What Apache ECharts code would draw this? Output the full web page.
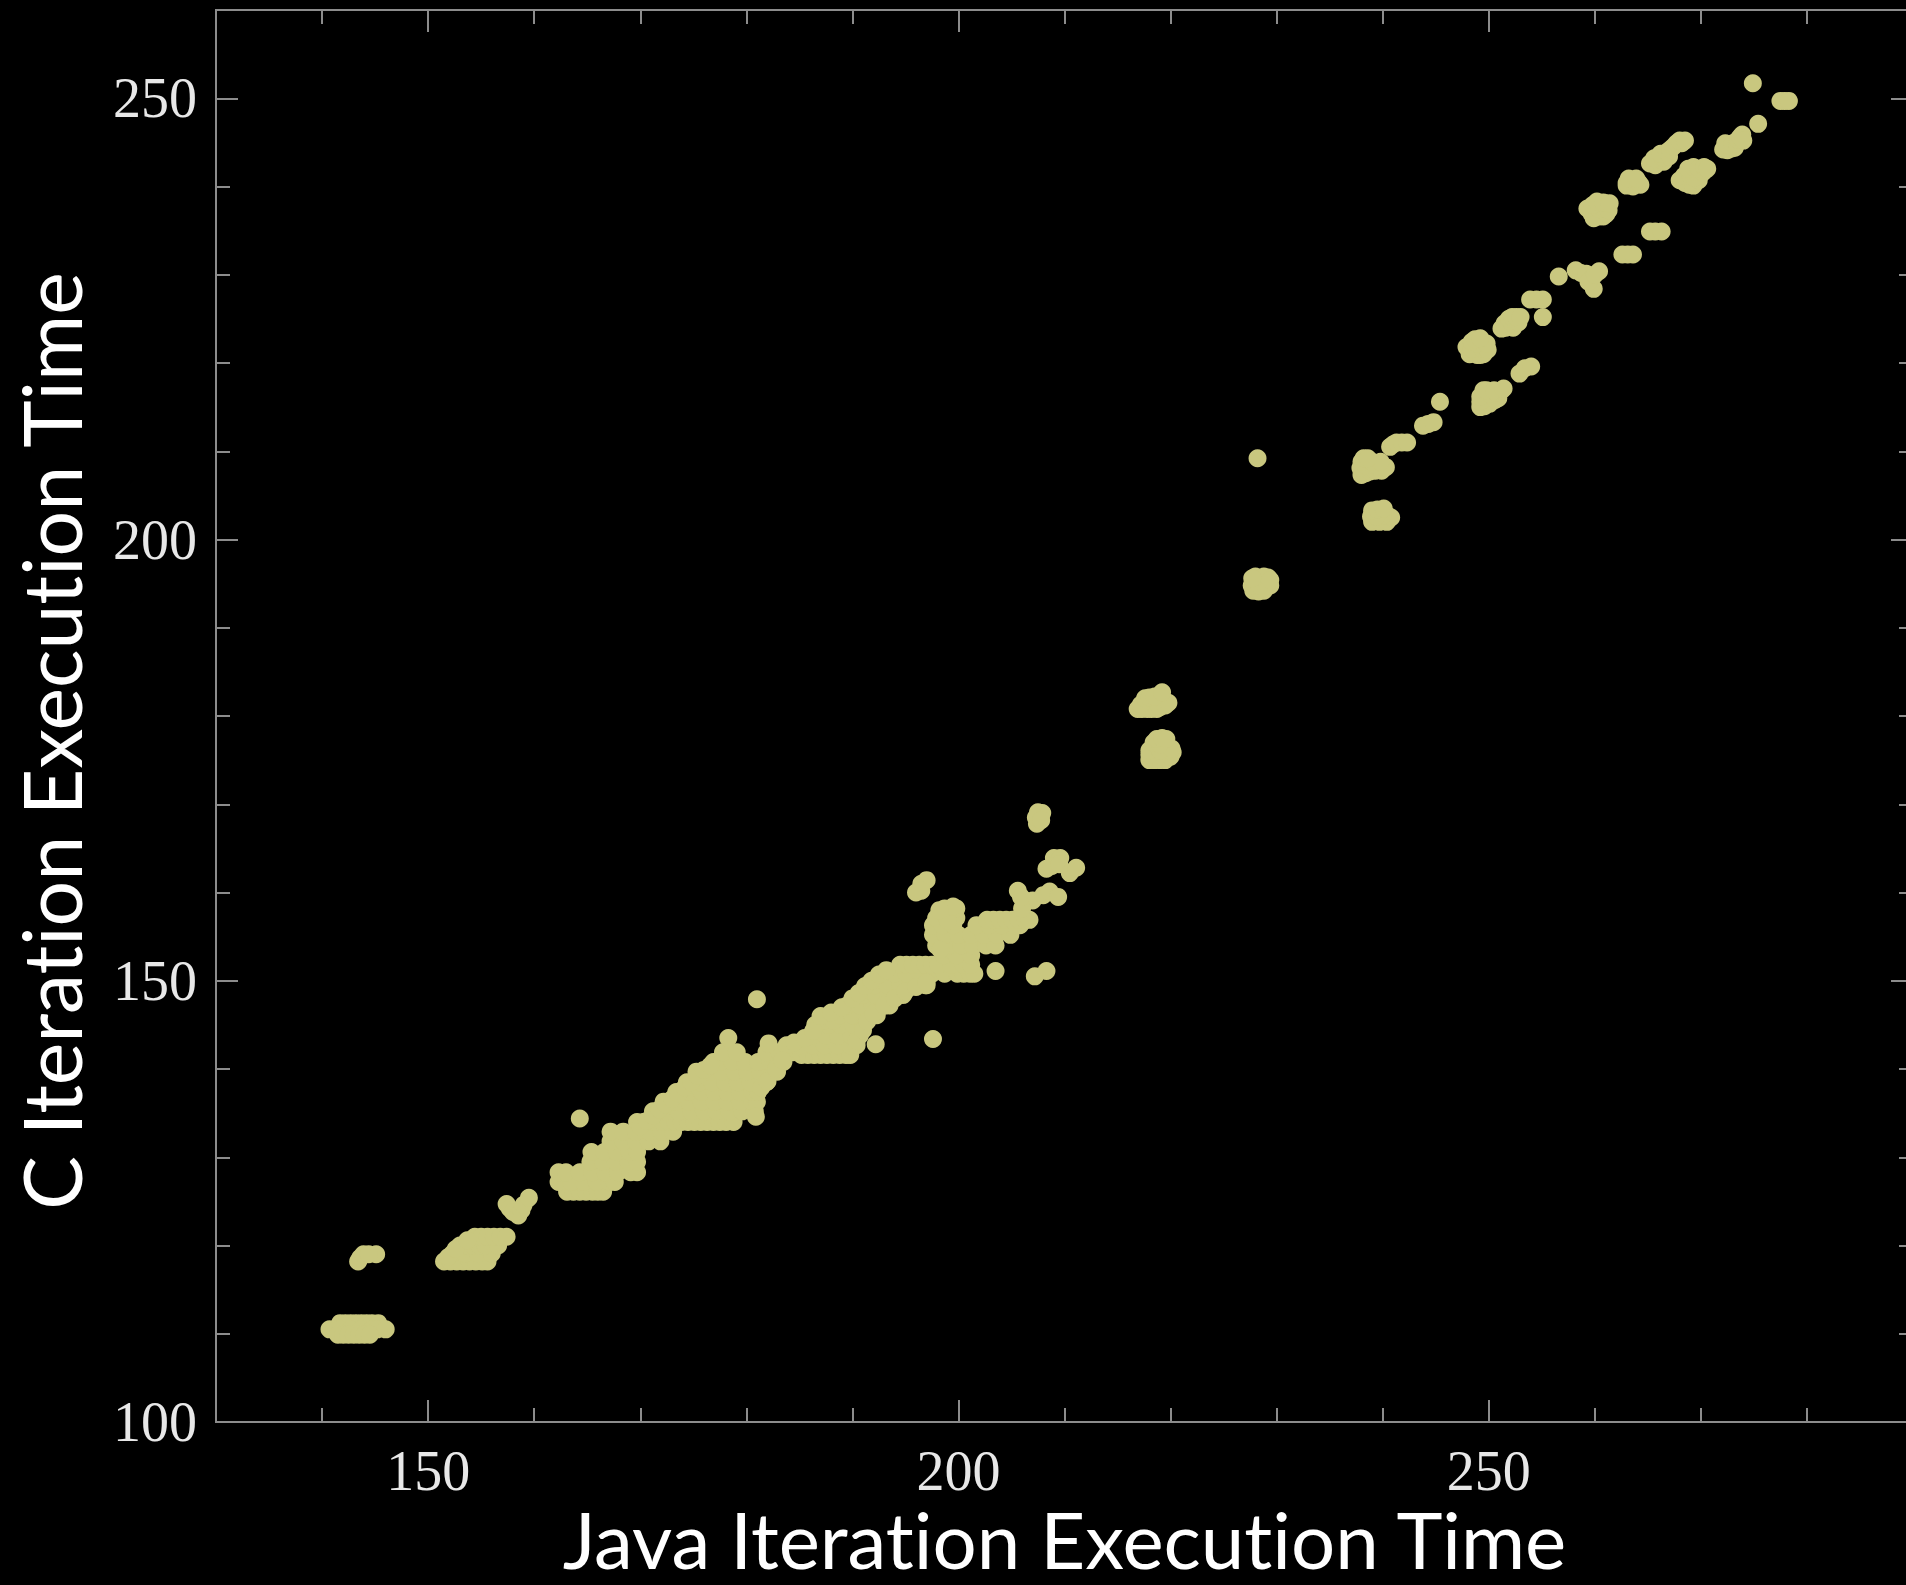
<!DOCTYPE html>
<html><head><meta charset="utf-8">
<style>html,body{margin:0;padding:0;background:#000;overflow:hidden}#c{width:1906px;height:1585px}#c text{font-variant-ligatures:none}#c svg{filter:blur(0.7px)}</style>
<script src="https://cdn.jsdelivr.net/npm/echarts@6/dist/echarts.min.js"></script>
</head><body><div id="c"></div>
<script>
var xTitle = 'Java Iteration Execution Time';
var yTitle = 'C Iteration Execution Time';
var xMajor = [150, 200, 250];
var yMajor = [100, 150, 200, 250];

// Dense band, read row by row: [C time, [Java times...]]
var bandRows = [
 [126.1,[163.1,163.7,164.3,164.9,165.5,166,166.5]],
 [127.2,[162.3,163.5,164.7,165.9,167.1,167.6]],
 [128.3,[162.3,163,164.3,165.5,166.7,167.9,169.1,169.7]],
 [129.5,[165.3,166.5,167.7,168.9,169.7]],
 [130.6,[165.4,166.6,167.8,169,169.7]],
 [131.8,[167.2,168.4,169.6,170.8,171.9]],
 [132.9,[167.2,168.4,169.6,170.8,172,173.1]],
 [134,[169.7,170.3,170.9,171.5,172.1,172.7,173.3,173.9,174.5,175.1,175.7,176.3,176.9,177.5,178.1,178.8]],
 [135.2,[171.2,172.4,173.6,174.8,176,177.2,178.4,179.6,180.8]],
 [136.3,[172.2,173.4,174.6,175.8,177,178.2,179.4,180.6,181]],
 [137.4,[173.4,174.6,175.8,177,178.2,179.4,180.6,181.1]],
 [138.5,[174.4,175.6,176.8,178,179.2,180.4,181.6,181.9]],
 [139.7,[175.3,176.5,177.7,178.9,180.1,181.3,182.5,182.9]],
 [140.8,[176.9,177.5,178.7,179.9,181.1,182.3,183.5]],
 [141.9,[177.8,179.1,181.9,183.1,184.4]],
 [142.9,[182.1]],
 [143.5,[178.3]],
 [141.6,[185.2,185.8,186.4,187,187.6,188.2,188.8,189.4,189.8]],
 [142.7,[183.8,185,186.2,187.4,188.6,189.8,190.4]],
 [143.8,[186.3,187.5,188.7,189.9,190.7]],
 [145,[186.5,187.7,188.9,190.1,191]],
 [145.5,[187.3,188.2]],
 [146.1,[188.8,190,191.2,192.3]],
 [147.2,[189.5,190.7,191.9,193.1,193.5]],
 [148.4,[191,192.2,193.4,194.6,194.8]],
 [149.5,[192.1,193.3,194.5,195.7,196.9,197]],
 [150.8,[193.9,195.1,196.3,197.5,198.7,199.9,200.5,201.1,201.5]],
 [151.8,[194.5,195.1,195.7,196.3,196.9,197.5,198.1,199.3,200.5,201.2]],
 [152.9,[198.6,199.8,201.2]],
 [154,[197.9,199.1,200.3,201.4,202.6,203.5]],
 [155.2,[197.6,198.8,200,201.2,202.4,203.6,204.9]],
 [156.3,[197.6,198.5,199.5,201.7,202.9,204.1,205.3,205.8]],
 [156.9,[202.7,203.3,203.9,204.5,205.1,205.7,206.3,206.7]],
 [157.1,[197.9,198.9,199.8]],
 [158.2,[198.7,199.3,199.8]]
];
// Edge readings along the same band: Java time, C time
var bandEdges = [
 [170,133.5],[170.6,134.1],[171.2,134.7],[171.8,135.4],[172.4,136],[173,136.6],[173.6,137.2],[174.2,137.9],[174.8,138.5],[175.4,139.2],[176,139.9],[176.6,140.4],
 [184.5,143],[185.5,143.5],[186.3,144.3],[187,146],[188,146.4],[189,147],[190,148],[190.6,148.6],[191.2,149.4],[191.8,150],[192.5,150.7],[193.2,151.2],
 [190.4,143.2],[191,144.4],[191.4,145.4],[192,146.3],[193,147.2],[194,148],[195,148.8],[196,149.3],[197,149.8],
 [180.9,134.6],[181.4,137.9],[182,138.6],[182.8,140],[183.4,141],
 [198.3,153.5],[199,156.8],[199.5,158.4],[198.2,158]
];

// Java time, C time
var lowClusters = [
 [141.7,111.2],[142.2,111.2],[142.7,111.2],[143.2,111.2],[143.7,111.2],[144.2,111.2],[144.7,111.2],[145.3,111.2],
 [140.7,110.5],[141.2,110.5],[141.7,110.5],[142.7,110.5],[143.7,110.5],[144.7,110.5],[145.2,110.5],[146,110.5],
 [141.5,109.9],[142,109.9],[142.5,109.9],[143,109.9],[143.5,109.9],[144,109.9],[144.5,109.9],
 [143.4,118.2],[143.6,118.6],[143.9,119],[145.1,119],[144.4,119],
 [151.5,118.2],[152.1,118.2],[152.7,118.2],[153.3,118.2],[153.9,118.2],[154.5,118.2],[155.1,118.2],[155.6,118.2],
 [152.3,119.1],[153.5,119.1],[154.7,119.1],[156,119.1],[151.9,118.7],
 [153,120],[153.6,120],[154.2,120],[154.8,120],[155.4,120],[156.6,120],[152.6,119.6],
 [154.4,121],[155,121],[155.6,121],[156.2,121],[156.8,121],[157.4,121],[153.7,120.6],
 [157.4,124.7],[157.7,124.2],[158,123.8],[158.5,123.4],[158.8,124],[159,124.6],[159.5,125.4],
 [164.3,134.4]
];
var midOutliers = [
 [181,147.9],[192.2,142.8],[197.6,143.4],[203.5,151.1],[207.2,150.5],[208.3,151.1],
 [196,160],[196.5,161],[197,161.4],[196.5,160.2],
 [205.6,160.2],[206.3,159.1],[207,159.1],[208,159.7],[208.6,160.1],[209.4,159.5],[206,158.2],[205.9,159.5],
 [208.3,162.7],[209,163.9],[209.6,163.9],[208.8,163],[209.5,163.2],[210.5,162.2],[211.1,162.8],
 [207.5,169.1],[207.4,167.8],[207.9,169],[207.3,168.5],[207.8,168.2]
];
var midClusters = [
 [216.9,180.8],[217.3,180.8],[217.8,180.8],[218.2,180.8],[218.7,180.8],[219,181],[219.5,181.2],[219.8,181.5],[217.2,181.3],[217.6,182],[218,182.1],[218.5,182.2],[219.2,182.7],
 [218,175],[218.5,175],[219,175],[219.5,175],[220,175.4],[218,175.6],[220.2,175.9],[218,176.1],[219,176.1],[220.1,176.3],[218.4,177],[219,176.8],[218.7,177.4],[219.2,177.5],[219.6,177.4],
 [227.8,194.2],[228.3,194.1],[228.8,194.2],[229.2,195],[229.4,194.8],[227.65,194.8],[227.8,195.4],[228.4,195.6],[229.2,195.7],[228.4,194.8],[228,195.8],[228.8,195.8],[229.4,195.4],[227.7,195.6],
 [228.2,209.2],
 [238,207.3],[238.4,207.5],[238.8,207.7],[239.3,207.8],[239.9,207.8],[237.9,208.1],[238.4,208.4],[239.4,208.4],[240.3,208.2],[238,208.8],[239,208.8],[239.8,208.8],[238.2,209.2],[238.6,209.2],
 [239,202],[239.7,202],[240.4,202],[240.8,202.5],[240.5,202.7],[240,202.7],[238.9,202.6],[239.4,202.6],[239,203.3],[239.5,203.4],[240.1,203.5],
 [240.7,210.5],[241,210.8],[241.3,211],[241.8,211],[242.3,211],
 [243.8,212.9],[244.3,213.1],[244.8,213.3],[245.4,215.6]
];
var highClusters = [
 [249.2,215],[249.6,215.1],[250.1,215.4],[250.9,216],[249.2,215.6],[250.6,215.8],[249.2,216.2],[250.1,216.5],[250.7,216.6],[251.2,216.9],[249.5,216.9],[249.8,216.9],[250.5,216.9],[251.4,217.1],
 [252.9,218.8],[253.4,219.4],[254,219.6],
 [247.9,221.8],[248.2,221],[248.9,220.9],[249.2,220.9],[249.5,221],[248.4,221.6],[249.4,221.6],[249.9,221.5],[248.9,222.2],[249.8,222.2],[248.4,222.4],[248.7,222.7],[249.2,222.8],
 [251.2,223.9],[251.6,224],[252.3,224],[251.5,224.5],[252.2,224.5],[252.8,224.6],[251.9,225],[252.2,225.2],[252.6,225.2],[253,225.2],
 [253.9,227.2],[254.5,227.2],[255.1,227.2],[255.1,225.2],
 [256.6,229.8],
 [258.2,230.5],[258.7,230.2],[259.2,230.1],[260.4,230.4],[259.7,229.6],[259.9,228.4],[259.4,229.2],[260,230],
 [262.6,232.3],[263.1,232.3],[263.6,232.3],[265.2,234.9],[265.7,234.9],[266.3,234.9],
 [259.9,236.4],[260.4,236.6],[260.8,236.6],[261.1,236.9],[259.7,236.9],[259.3,237.5],[260.3,237.5],[260.8,237.5],[261.3,237.3],[259.8,237.9],[260.2,238.3],[260.8,238.2],[261.4,238.1],
 [263,240.1],[263.6,240],[264.3,240.2],[263.5,240.4],[263,240.4],[264.1,240.5],[263.2,240.9],[263.9,240.9],
 [265.2,242.6],[265.7,242.4],[266,242.8],[266.5,242.8],[265.6,243.2],[266.4,243.3],[267,243.4],[266.2,243.7],[266.8,243.9],[267.1,244.2],[267.4,244.5],[267.7,244.9],[268.2,244.9],[268,245.2],[268.5,245.2],
 [268,240.7],[268.5,240.4],[268.9,240.2],[269.3,240.1],[269.8,240.7],[268.4,241.2],[269,241.3],[269.4,241],[269.4,241.7],[270.2,241.6],[268.8,242],[269.3,242.2],[269.8,242],[270.3,242.2],[270.6,242],
 [272.1,244.2],[272.5,244.1],[272.9,244.3],[273.2,244.4],[272.3,244.9],[272.5,244.7],[273,244.9],[273.4,244.9],[273.5,245.3],[273.7,245.6],[273.9,245.9],[274,245.2],
 [275.4,247.1],[274.9,251.7],[277.5,249.7],[277.9,249.7],[278.3,249.7]
];

var points = [];
bandRows.forEach(function (r) { r[1].forEach(function (x) { points.push([x, r[0]]); }); });
points = points.concat(bandEdges, lowClusters, midOutliers, midClusters, highClusters);

var AXIS = '#8c8c8c';
var LABEL = '#e8e8e8';
function base(min, max) {
  return { type: 'value', min: min, max: max, interval: 10, splitLine: { show: false },
           axisLine: { show: true, onZero: false, lineStyle: { color: AXIS, width: 2 } } };
}
function minorAxis(min, max, pos) {
  var a = base(min, max);
  a.position = pos;
  a.axisLabel = { show: false };
  a.axisTick = { show: true, inside: true, length: 14, lineStyle: { color: AXIS, width: 2 } };
  return a;
}
function majorAxis(min, max, pos, vals) {
  var a = base(min, max);
  a.position = pos;
  a.axisLabel = { show: false };
  a.axisTick = { show: true, inside: true, length: 22, customValues: vals, lineStyle: { color: AXIS, width: 2 } };
  return a;
}
var xMain = majorAxis(130, 290, 'bottom', xMajor);
xMain.axisLabel = { show: true, customValues: xMajor, margin: 21, color: LABEL,
  fontFamily: 'Liberation Serif', fontSize: 56 };
xMain.name = xTitle;
xMain.nameLocation = 'middle';
xMain.nameMoveOverlap = false;
xMain.nameGap = 78;
xMain.nameTextStyle = { color: '#ffffff', fontFamily: 'Lato', fontSize: 78 };

var yMain = majorAxis(100, 260, 'left', yMajor);
yMain.axisLabel = { show: true, customValues: yMajor, margin: 19, color: LABEL,
  fontFamily: 'Liberation Serif', fontSize: 56 };
yMain.name = yTitle;
yMain.nameLocation = 'middle';
yMain.nameGap = 125;
yMain.nameTextStyle = { color: '#ffffff', fontFamily: 'Lato', fontSize: 80.5, padding: [0, 50, 0, 0] };

var chart = echarts.init(document.getElementById('c'), null, { renderer: 'svg' });
chart.setOption({
  animation: false,
  backgroundColor: '#000000',
  grid: { left: 216, top: 10, width: 1697, height: 1412, outerBoundsMode: 'none' },
  xAxis: [xMain, minorAxis(130, 290, 'bottom'), majorAxis(130, 290, 'top', xMajor), minorAxis(130, 290, 'top')],
  yAxis: [yMain, minorAxis(100, 260, 'left'), majorAxis(100, 260, 'right', yMajor), minorAxis(100, 260, 'right')],
  series: [{
    type: 'scatter', xAxisIndex: 0, yAxisIndex: 0, data: points,
    symbol: 'circle', symbolSize: 18, silent: true,
    itemStyle: { color: '#c9c77f', opacity: 1 }
  }]
});
</script></body></html>
